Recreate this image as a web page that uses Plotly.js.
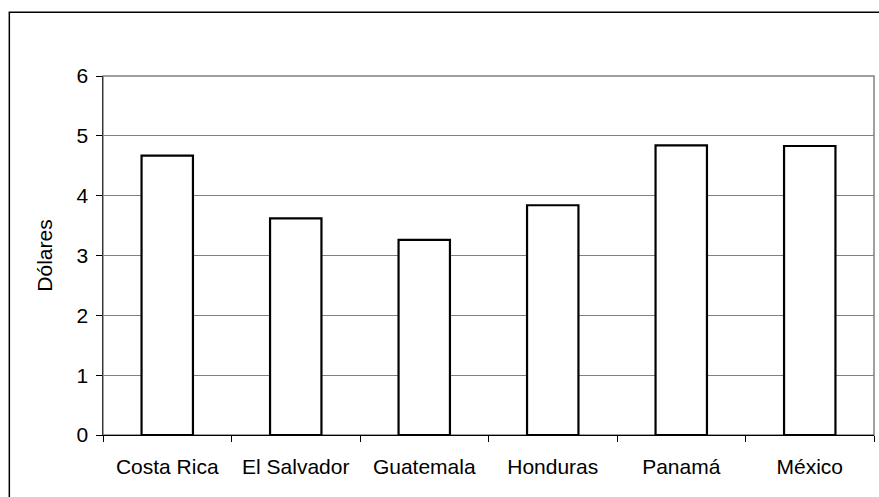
<!DOCTYPE html>
<html>
<head>
<meta charset="utf-8">
<script src="https://cdn.plot.ly/plotly-3.0.1.min.js"></script>
<style>html,body{margin:0;padding:0;background:#fff;}#chart{width:879px;height:497px;}</style>
</head>
<body>
<div id="chart"></div>
<script>
const countries = ["Costa Rica", "El Salvador", "Guatemala", "Honduras", "Panamá", "México"];
const dollars = [4.67, 3.62, 3.26, 3.84, 4.84, 4.83];
const yTicks = [0, 1, 2, 3, 4, 5, 6];
const yTitle = "Dólares";

const font = {family: "Liberation Sans, Arial, sans-serif", size: 21, color: "#000"};

const trace = {
  type: "bar",
  x: countries,
  y: dollars,
  marker: {color: "#ffffff", line: {color: "#000000", width: 2.2}},
  hoverinfo: "x+y"
};

const layout = {
  width: 879, height: 497,
  margin: {l: 103, r: 5, t: 76, b: 62},
  paper_bgcolor: "#ffffff",
  plot_bgcolor: "#ffffff",
  bargap: 0.6,
  showlegend: false,
  font: font,
  xaxis: {
    type: "category",
    tickson: "boundaries",
    ticks: "outside",
    ticklen: 6,
    tickcolor: "#000",
    tickwidth: 1,
    showline: true,
    linecolor: "#000",
    linewidth: 1,
    showgrid: false,
    zeroline: false,
    tickfont: font,
    ticklabelstandoff: 13
  },
  yaxis: {
    range: [0, 6],
    tickvals: yTicks,
    ticks: "outside",
    ticklen: 6,
    tickcolor: "#000",
    showline: true,
    linecolor: "#333",
    linewidth: 1.5,
    showgrid: true,
    gridcolor: "#808080",
    gridwidth: 1,
    zeroline: false,
    tickfont: font,
    ticklabelstandoff: 3,
    title: {text: yTitle, font: font, standoff: 18}
  },
  shapes: [
    {type: "rect", xref: "paper", yref: "paper", x0: 0, x1: 1, y0: 0, y1: 1,
     line: {color: "#808080", width: 1.5}, layer: "below"},
    {type: "rect", xref: "paper", yref: "paper", x0: -0.1215, x1: 1.05, y0: -0.3, y1: 1.1775,
     line: {color: "#000", width: 1.5}, fillcolor: "rgba(0,0,0,0)", layer: "above"}
  ]
};

Plotly.newPlot("chart", [trace], layout, {displayModeBar: false, staticPlot: true});
</script>
</body>
</html>
